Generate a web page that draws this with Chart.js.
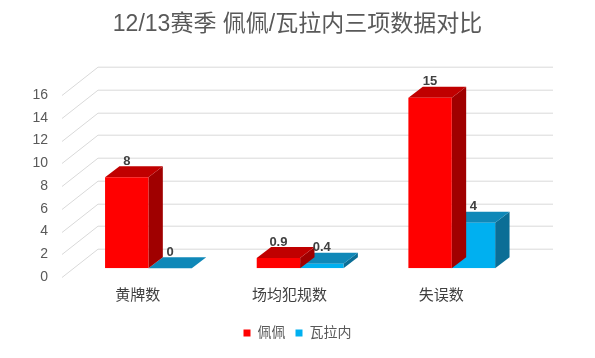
<!DOCTYPE html>
<html><head><meta charset="utf-8">
<script src="https://cdn.jsdelivr.net/npm/chart.js@4/dist/chart.umd.min.js"></script>
<style>html,body{margin:0;padding:0;background:#fff}#wrap{width:595px;height:358px;position:relative}</style>
</head><body><div id="wrap"><canvas id="c"></canvas></div>
<script>
const categories = ['黄牌数', '场均犯规数', '失误数'];
const seriesNames = ['佩佩', '瓦拉内'];
const pepeValues = [8, 0.9, 15];
const varaneValues = [0, 0.4, 4];
const yTickValues = [0, 2, 4, 6, 8, 10, 12, 14, 16];
const titleText = '12/13赛季 佩佩/瓦拉内三项数据对比';

const FONT = "'Liberation Sans','Noto Sans CJK SC',sans-serif";
const FRONT_OX = 10.6, FRONT_OY = -8.7;   // bar front face inside the floor depth
const DEPTH_DX = 14.4, DEPTH_DY = -11;    // bar depth
const WALL_DX = 36, WALL_DY = -28.3;      // back wall offset
const frontColors = ['#FF0000', '#00B0F0'];
const faceColors = [{ top: '#C00000', side: '#A00000' }, { top: '#0F88B8', side: '#0B6E96' }];

const threeD = {
  id: 'threeD',
  beforeDatasetsDraw(chart) {
    const { ctx, chartArea: a, scales: { y } } = chart;
    ctx.save();
    ctx.strokeStyle = '#D9D9D9';
    ctx.lineWidth = 1;
    y.ticks.forEach(t => {
      const py = Math.round(y.getPixelForValue(t.value)) + 0.5;
      ctx.beginPath();
      ctx.moveTo(a.left, py);
      ctx.lineTo(a.left + WALL_DX, py + WALL_DY);
      ctx.lineTo(a.right + WALL_DX, py + WALL_DY);
      ctx.stroke();
    });
    ctx.restore();
  },
  beforeDatasetDraw(chart, args) {
    const ctx = chart.ctx;
    const c = faceColors[args.index];
    args.meta.data.forEach(el => {
      const p = el.getProps(['x', 'y', 'base', 'width'], true);
      const l = p.x - p.width / 2 + FRONT_OX, r = p.x + p.width / 2 + FRONT_OX;
      const t = p.y + FRONT_OY, b = p.base + FRONT_OY;
      ctx.fillStyle = c.side;
      ctx.beginPath();
      ctx.moveTo(r, t); ctx.lineTo(r + DEPTH_DX, t + DEPTH_DY);
      ctx.lineTo(r + DEPTH_DX, b + DEPTH_DY); ctx.lineTo(r, b);
      ctx.closePath(); ctx.fill();
      ctx.fillStyle = c.top;
      ctx.beginPath();
      ctx.moveTo(l, t); ctx.lineTo(l + DEPTH_DX, t + DEPTH_DY);
      ctx.lineTo(r + DEPTH_DX, t + DEPTH_DY); ctx.lineTo(r, t);
      ctx.closePath(); ctx.fill();
    });
    ctx.save();
    ctx.translate(FRONT_OX, FRONT_OY);
  },
  afterDatasetDraw(chart) {
    chart.ctx.restore();
  },
  afterDatasetsDraw(chart) {
    const ctx = chart.ctx;
    ctx.save();
    ctx.fillStyle = '#404040';
    ctx.font = "bold 13px " + FONT;
    ctx.textAlign = 'center';
    ctx.textBaseline = 'middle';
    chart.data.datasets.forEach((ds, i) => {
      chart.getDatasetMeta(i).data.forEach((el, j) => {
        const p = el.getProps(['x', 'y'], true);
        ctx.fillText(String(ds.data[j]), p.x + FRONT_OX, p.y + FRONT_OY - 16);
      });
    });
    ctx.restore();
  }
};

new Chart(document.getElementById('c'), {
  type: 'bar',
  data: {
    labels: categories,
    datasets: [
      { label: seriesNames[0], data: pepeValues, backgroundColor: frontColors[0], borderWidth: 0 },
      { label: seriesNames[1], data: varaneValues, backgroundColor: frontColors[1], borderWidth: 0 }
    ]
  },
  options: {
    responsive: true,
    maintainAspectRatio: false,
    animation: false,
    devicePixelRatio: 1,
    layout: { padding: { left: 0, right: 0, top: 0, bottom: 8 } },
    datasets: { bar: { categoryPercentage: 0.572, barPercentage: 1 } },
    scales: {
      x: {
        grid: { display: false, drawTicks: false },
        border: { display: false },
        ticks: { color: '#404040', font: { family: FONT, size: 15 }, padding: 10 },
        afterFit(s) { s.height = 39; }
      },
      y: {
        min: 0, max: 16,
        afterBuildTicks(s) { s.ticks = yTickValues.map(v => ({ value: v })); },
        grid: { display: false, drawTicks: false },
        border: { display: false },
        ticks: { color: '#595959', font: { family: FONT, size: 14 }, padding: 14 },
        afterFit(s) { s.width = 62; }
      },
      yRight: {
        type: 'linear', position: 'right', display: true,
        grid: { display: false, drawTicks: false },
        border: { display: false },
        ticks: { display: false },
        afterFit(s) { s.width = 78; }
      }
    },
    plugins: {
      title: {
        display: true, text: titleText, color: '#595959',
        font: { family: FONT, size: 23, weight: 'normal' },
        padding: { top: 11.2, bottom: 56.2 }
      },
      legend: {
        position: 'bottom',
        labels: { color: '#595959', font: { family: FONT, size: 14 }, boxWidth: 7, boxHeight: 7, padding: 10 }
      },
      tooltip: { enabled: false }
    }
  },
  plugins: [threeD]
});
</script></body></html>
